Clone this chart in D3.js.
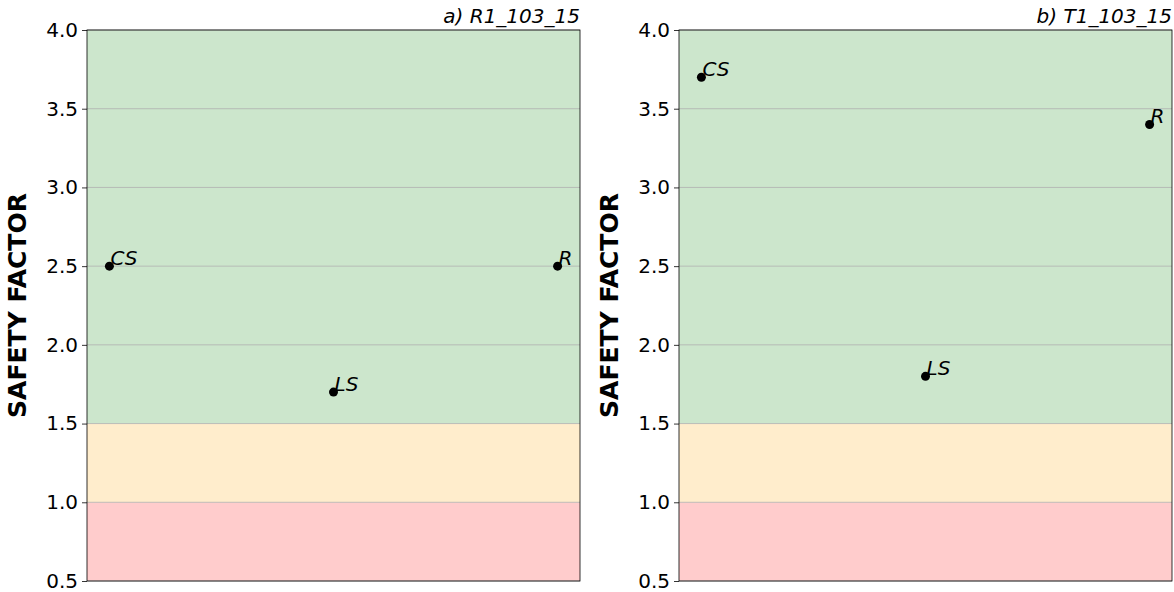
<!DOCTYPE html>
<html>
<head>
<meta charset="utf-8">
<script src="https://cdn.jsdelivr.net/npm/d3@7"></script>
<style>
  body { margin: 0; background: #fff; }
  text { font-family: "DejaVu Sans", sans-serif; }
</style>
</head>
<body>
<div id="chart"></div>
<script>
// data
let panelTitles = ["a) R1_103_15", "b) T1_103_15"];
let categories = ["CS", "LS", "R"];
let valuesA = [2.5, 1.7, 2.5];
let valuesB = [3.7, 1.8, 3.4];
let yTicks = [0.5, 1.0, 1.5, 2.0, 2.5, 3.0, 3.5, 4.0];
let zones = [
    {from: 0.5, to: 1.0, color: "#ffcccc"},
    {from: 1.0, to: 1.5, color: "#ffedcc"},
    {from: 1.5, to: 4.0, color: "#cce6cc"}
];

let width = 1174, height = 592;
let svg = d3.select("#chart").append("svg")
    .attr("width", width)
    .attr("height", height);

function drawPanel(left, title, values) {
    let w = 493, top = 30, bottom = 581;

    // matplotlib style margins: 0.05 of data span on each side
    let span = 2 / 2.2 * w;
    let x = d3.scalePoint()
        .domain(categories)
        .range([left + (w - span) / 2, left + (w + span) / 2])
        .padding(0);

    let y = d3.scaleLinear()
        .domain([0.5, 4.0])
        .range([bottom, top]);

    let g = svg.append("g");

    g.selectAll("rect.zone")
        .data(zones)
        .enter().append("rect")
        .attr("class", "zone")
        .attr("x", left)
        .attr("width", w)
        .attr("y", d => y(d.to))
        .attr("height", d => y(d.from) - y(d.to))
        .attr("fill", d => d.color);

    g.selectAll("line.grid")
        .data(yTicks)
        .enter().append("line")
        .attr("class", "grid")
        .attr("x1", left)
        .attr("x2", left + w)
        .attr("y1", d => y(d))
        .attr("y2", d => y(d))
        .attr("stroke", "#b0b0b0")
        .attr("stroke-width", 0.8);

    let axis = d3.axisLeft(y)
        .tickValues(yTicks)
        .tickFormat(d3.format(".1f"))
        .tickSize(5)
        .tickPadding(4);
    let ax = g.append("g")
        .attr("transform", "translate(" + left + ",0)")
        .call(axis);
    ax.select(".domain").remove();
    ax.selectAll("text")
        .attr("font-size", "20px")
        .attr("fill", "#000");
    ax.selectAll("line").attr("stroke", "#000").attr("stroke-width", 0.8);

    g.append("rect")
        .attr("x", left)
        .attr("y", top)
        .attr("width", w)
        .attr("height", bottom - top)
        .attr("fill", "none")
        .attr("stroke", "#000")
        .attr("stroke-width", 0.8);

    g.selectAll("circle.pt")
        .data(values)
        .enter().append("circle")
        .attr("class", "pt")
        .attr("cx", (d, i) => x(categories[i]))
        .attr("cy", d => y(d))
        .attr("r", 4.5)
        .attr("fill", "#000");

    g.selectAll("text.lbl")
        .data(values)
        .enter().append("text")
        .attr("class", "lbl")
        .attr("x", (d, i) => x(categories[i]) + 1)
        .attr("y", d => y(d) - 1)
        .attr("font-size", "20px")
        .attr("font-style", "italic")
        .text((d, i) => categories[i]);

    g.append("text")
        .attr("x", left + w)
        .attr("y", 23)
        .attr("text-anchor", "end")
        .attr("font-size", "20px")
        .attr("font-style", "italic")
        .text(title);

    g.append("text")
        .attr("transform", "translate(" + (left - 61) + "," + ((top + bottom) / 2) + ") rotate(-90)")
        .attr("text-anchor", "middle")
        .attr("font-size", "25px")
        .attr("font-weight", "bold")
        .text("SAFETY FACTOR");
}

drawPanel(87, panelTitles[0], valuesA);
drawPanel(679, panelTitles[1], valuesB);
</script>
</body>
</html>
